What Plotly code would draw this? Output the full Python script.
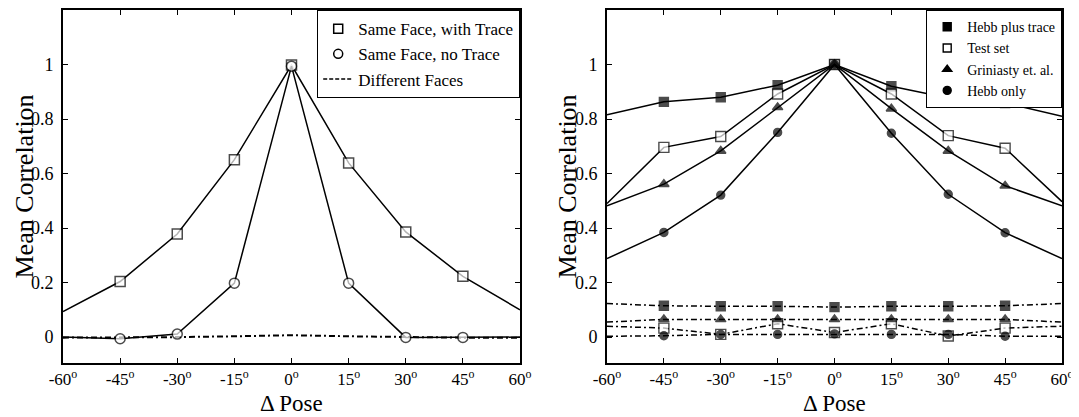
import plotly.graph_objects as go

# ---------------- data ----------------
poses = [-60, -45, -30, -15, 0, 15, 30, 45, 60]
x_tick_text = ["-60<sup>o</sup>", "-45<sup>o</sup>", "-30<sup>o</sup>", "-15<sup>o</sup>",
               "0<sup>o</sup>", "15<sup>o</sup>", "30<sup>o</sup>", "45<sup>o</sup>", "60<sup>o</sup>"]
y_tick_vals = [0, 0.2, 0.4, 0.6, 0.8, 1]
y_tick_text = ["0", "0.2", "0.4", "0.6", "0.8", "1"]

# left panel
same_with_trace = [0.094, 0.204, 0.378, 0.651, 0.998, 0.639, 0.386, 0.223, 0.100]
same_no_trace = [0.0, -0.006, 0.011, 0.198, 0.994, 0.198, -0.001, -0.001, 0.0]
different_faces = [-0.002, -0.002, 0.0, 0.003, 0.007, 0.003, 0.0, -0.002, -0.002]

# right panel, same face
hebb_plus_trace = [0.816, 0.863, 0.880, 0.924, 1.0, 0.920, 0.877, 0.859, 0.810]
test_set = [0.490, 0.696, 0.736, 0.892, 1.0, 0.892, 0.739, 0.693, 0.497]
griniasty = [0.482, 0.561, 0.683, 0.843, 1.0, 0.838, 0.683, 0.555, 0.482]
hebb_only = [0.288, 0.384, 0.521, 0.751, 1.0, 0.748, 0.524, 0.383, 0.288]

# right panel, different faces
hebb_plus_trace_diff = [0.123, 0.115, 0.113, 0.113, 0.110, 0.113, 0.113, 0.115, 0.123]
griniasty_diff = [0.055, 0.065, 0.065, 0.065, 0.065, 0.065, 0.065, 0.065, 0.055]
test_set_diff = [0.040, 0.033, 0.010, 0.049, 0.017, 0.049, 0.004, 0.033, 0.040]
hebb_only_diff = [0.003, 0.005, 0.010, 0.010, 0.012, 0.010, 0.010, 0.003, 0.003]

# ---------------- styling ----------------
FONT = "Liberation Serif, Times New Roman, serif"
BLACK = "#000000"
LW = 1.5
DASHDOT = "6px,3px,2px,3px"

# page body has an 8px margin; lay the figure out in page pixels
OFF = 8
W, H = 1079 - OFF, 417 - OFF


def PX(x):
    return (x - OFF) / W


def PY(y):
    return 1 - (y - OFF) / H


def msizes(s):
    return [0] + [s] * 7 + [0]


fig = go.Figure()

# ---- left panel ----
fig.add_trace(go.Scatter(x=poses, y=same_with_trace, mode="lines+markers", showlegend=False,
                         line=dict(color=BLACK, width=LW),
                         marker=dict(symbol="square", size=msizes(10), color="white",
                                     line=dict(color=BLACK, width=1.5)),
                         xaxis="x", yaxis="y"))
fig.add_trace(go.Scatter(x=poses, y=different_faces, mode="lines", showlegend=False,
                         line=dict(color=BLACK, width=2, dash=DASHDOT),
                         xaxis="x", yaxis="y"))
fig.add_trace(go.Scatter(x=poses, y=same_no_trace, mode="lines+markers", showlegend=False,
                         line=dict(color=BLACK, width=LW),
                         marker=dict(symbol="circle", size=msizes(10), color="white",
                                     line=dict(color=BLACK, width=1.5)),
                         xaxis="x", yaxis="y"))

# left legend entries
fig.add_trace(go.Scatter(x=[None], y=[None], mode="markers", name="Same Face, with Trace",
                         marker=dict(symbol="square", size=9, color="white",
                                     line=dict(color=BLACK, width=1.5)),
                         legend="legend", xaxis="x", yaxis="y"))
fig.add_trace(go.Scatter(x=[None], y=[None], mode="markers", name="Same Face, no Trace",
                         marker=dict(symbol="circle", size=9, color="white",
                                     line=dict(color=BLACK, width=1.5)),
                         legend="legend", xaxis="x", yaxis="y"))
fig.add_trace(go.Scatter(x=[None], y=[None], mode="lines", name="Different Faces",
                         line=dict(color=BLACK, width=1.5, dash="4px,2px"),
                         legend="legend", xaxis="x", yaxis="y"))

# ---- right panel ----
right_series = [
    (hebb_plus_trace, hebb_plus_trace_diff, "square", BLACK, 9, "Hebb plus trace"),
    (test_set, test_set_diff, "square", "white", 10, "Test set"),
    (griniasty, griniasty_diff, "triangle-up", BLACK, 9, "Griniasty et. al."),
    (hebb_only, hebb_only_diff, "circle", BLACK, 8, "Hebb only"),
]
for same, diff, sym, fill, size, name in right_series:
    fig.add_trace(go.Scatter(x=poses, y=same, mode="lines+markers", showlegend=False,
                             line=dict(color=BLACK, width=LW),
                             marker=dict(symbol=sym, size=msizes(size), color=fill,
                                         line=dict(color=BLACK, width=1.4)),
                             xaxis="x2", yaxis="y2"))
    fig.add_trace(go.Scatter(x=poses, y=diff, mode="lines+markers", showlegend=False,
                             line=dict(color=BLACK, width=1.5, dash=DASHDOT),
                             marker=dict(symbol=sym, size=msizes(size), color=fill,
                                         line=dict(color=BLACK, width=1.4)),
                             xaxis="x2", yaxis="y2"))
for same, diff, sym, fill, size, name in right_series:
    fig.add_trace(go.Scatter(x=[None], y=[None], mode="markers", name=name,
                             marker=dict(symbol=sym, size=8, color=fill,
                                         line=dict(color=BLACK, width=1.4)),
                             legend="legend2", xaxis="x2", yaxis="y2"))

# ---------------- layout ----------------
LX = [PX(63), PX(520)]
RX = [PX(607), PX(1062)]
YD = [PY(363), PY(10)]

xaxis_common = dict(range=[-60, 60], tickmode="array", tickvals=poses, ticktext=x_tick_text,
                    showline=True, linecolor=BLACK, linewidth=1.7, mirror="ticks",
                    ticks="inside", ticklen=5, tickwidth=1.3, tickcolor=BLACK,
                    showgrid=False, zeroline=False, automargin=False,
                    tickfont=dict(family=FONT, size=17, color=BLACK), ticklabelstandoff=0)
yaxis_common = dict(range=[-0.095, 1.2], tickmode="array", tickvals=y_tick_vals, ticktext=y_tick_text,
                    showline=True, linecolor=BLACK, linewidth=1.7, mirror="ticks",
                    ticks="inside", ticklen=5, tickwidth=1.3, tickcolor=BLACK,
                    showgrid=False, zeroline=False, automargin=False,
                    tickfont=dict(family=FONT, size=18, color=BLACK), ticklabelstandoff=4, domain=YD)

legend_common = dict(bgcolor="white", bordercolor=BLACK, borderwidth=1.2,
                     xanchor="right", yanchor="top", itemwidth=30, tracegroupgap=0,
                     xref="paper", yref="paper")

title_font = dict(family=FONT, size=26, color=BLACK)
pose_font = dict(family=FONT, size=23, color=BLACK)

fig.update_layout(
    width=W, height=H,
    margin=dict(l=0, r=0, t=0, b=0),
    paper_bgcolor="white", plot_bgcolor="white",
    font=dict(family=FONT, color=BLACK),
    xaxis=dict(domain=LX, anchor="y", **xaxis_common),
    yaxis=dict(anchor="x", **yaxis_common),
    xaxis2=dict(domain=RX, anchor="y2", **xaxis_common),
    yaxis2=dict(anchor="x2", **yaxis_common),
    legend=dict(x=LX[1], y=YD[1], font=dict(family=FONT, size=17, color=BLACK), **legend_common),
    legend2=dict(x=RX[1], y=YD[1], font=dict(family=FONT, size=14, color=BLACK), **legend_common),
    annotations=[
        dict(text="Mean Correlation", x=PX(24), y=PY(186.5), xref="paper", yref="paper",
             xanchor="center", yanchor="middle", textangle=-90, showarrow=False, font=title_font),
        dict(text="Mean Correlation", x=PX(567), y=PY(186.5), xref="paper", yref="paper",
             xanchor="center", yanchor="middle", textangle=-90, showarrow=False, font=title_font),
        dict(text="Δ Pose", x=(LX[0] + LX[1]) / 2, y=PY(403), xref="paper", yref="paper",
             xanchor="center", yanchor="middle", showarrow=False, font=pose_font),
        dict(text="Δ Pose", x=(RX[0] + RX[1]) / 2, y=PY(403), xref="paper", yref="paper",
             xanchor="center", yanchor="middle", showarrow=False, font=pose_font),
    ],
)

fig.write_html("out.html")
